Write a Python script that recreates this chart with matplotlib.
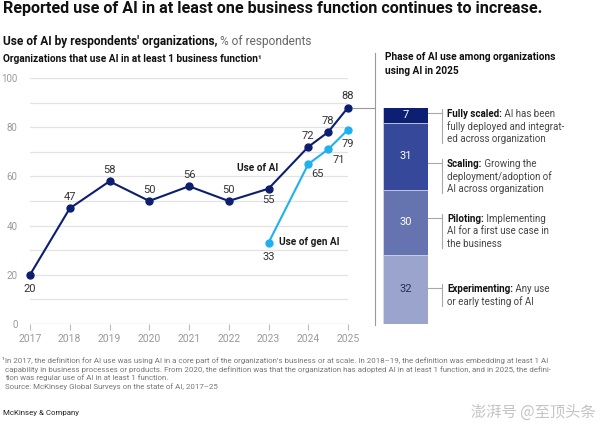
import matplotlib
matplotlib.use("Agg")
import matplotlib.pyplot as plt
from matplotlib.lines import Line2D

# ---- data ----
ai_years = [2017, 2018, 2019, 2020, 2021, 2022, 2023, 2024, 2024.5, 2025]
ai_use = [20, 47, 58, 50, 56, 50, 55, 72, 78, 88]
genai_years = [2023, 2024, 2024.5, 2025]
genai_use = [33, 65, 71, 79]
year_ticks = [2017, 2018, 2019, 2020, 2021, 2022, 2023, 2024, 2025]
y_ticks = [0, 20, 40, 60, 80, 100]

# phase shares, bottom to top of the stacked bar
phase_names = ["Experimenting:", "Piloting:", "Scaling:", "Fully scaled:"]
phase_share = [32, 30, 31, 7]
phase_desc = [
    [" Any use", "or early testing of AI"],
    [" Implementing", "AI for a first use case in", "the business"],
    [" Growing the", "deployment/adoption of", "AI across organization"],
    [" AI has been", "fully deployed and integrat-", "ed across organization"],
]

TITLE = "Reported use of AI in at least one business function continues to increase."
SUB_BOLD = "Use of AI by respondents' organizations,"
SUB_REST = " % of respondents"
LEFT_HEAD = "Organizations that use AI in at least 1 business function\u00b9"
RIGHT_HEAD = "Phase of AI use among organizations\nusing AI in 2025"
FOOTNOTE = [
    "\u00b9In 2017, the definition for AI use was using AI in a core part of the organization\u2019s business or at scale. In 2018\u201319, the definition was embedding at least 1 AI",
    "capability in business processes or products. From 2020, the definition was that the organization has adopted AI in at least 1 function, and in 2025, the defini-",
    "tion was regular use of AI in at least 1 function.",
    "Source: McKinsey Global Surveys on the state of AI, 2017\u201325",
]

# ---- style ----
NAVY = "#0b1f6e"
SKY = "#1fb0f2"
BAR_COLS = ["#9ba4cd", "#6573b0", "#35489a", "#0c1f72"]
BAR_TXT = ["#2a2f55", "white", "white", "white"]
GRID = "#e3e3e3"
TICK_GREY = "#9a9a9a"
TXT = "#333333"

W, H = 600, 430
plt.rcParams['font.family'] = ["Roboto", "DejaVu Sans"]

fig = plt.figure(figsize=(W / 100, H / 100), dpi=100)
renderer = fig.canvas.get_renderer()


def frac(x0, y0, x1, y1):
    # pixel box (top-left origin) -> figure fraction rect
    return [x0 / W, 1 - y1 / H, (x1 - x0) / W, (y1 - y0) / H]


# ---- line chart ----
ax = fig.add_axes(frac(30, 78, 348, 324))
ax.set_xlim(2017, 2025)
ax.set_ylim(0, 100)
for v in range(10, 101, 10):
    ax.axhline(v, color=GRID, lw=0.9, zorder=0)
ax.axhline(0, color="#bdbdbd", lw=0.9, zorder=0)
for s in ax.spines.values():
    s.set_visible(False)
ax.set_xticks(year_ticks)
ax.set_yticks(y_ticks)
ax.tick_params(axis="x", length=4, width=0.8, color="#bdbdbd", labelcolor=TICK_GREY,
               labelsize=7.5, pad=3)
ax.tick_params(axis="y", length=0, labelcolor=TICK_GREY, labelsize=7, pad=9)

ax.plot(ai_years, ai_use, "o-", color=NAVY, lw=1.5, ms=5, clip_on=False, zorder=3)
ax.plot(genai_years, genai_use, "o-", color=SKY, lw=1.5, ms=5, clip_on=False, zorder=3)

ai_off = [(0, -10), (0, 8), (0, 8), (0, 8), (0, 8), (0, 8), (0, -8), (0, 8), (0, 8), (0, 8)]
for x, y, off in zip(ai_years, ai_use, ai_off):
    ax.annotate(str(y), (x, y), xytext=off, textcoords="offset points",
                ha="center", va="center", fontsize=8, color=TXT)
gen_off = [(0, -10), (7, -7), (8, -8), (0, -10)]
for x, y, off in zip(genai_years, genai_use, gen_off):
    ax.annotate(str(y), (x, y), xytext=off, textcoords="offset points",
                ha="center", va="center", fontsize=8, color=TXT)

ax.text(2023.24, 63.4, "Use of AI", ha="right", va="center", fontsize=7.2,
        fontweight="bold", color="#1a1a1a")
ax.text(2023.27, 33.3, "Use of gen AI", ha="left", va="center", fontsize=7.2,
        fontweight="bold", color="#1a1a1a")

# ---- stacked bar ----
bx = fig.add_axes(frac(383, 107.5, 428, 324))
bx.set_xlim(-0.5, 0.5)
bx.set_ylim(0, 100)
bx.axis("off")
bottom = 0
for share, col, tc in zip(phase_share, BAR_COLS, BAR_TXT):
    bx.bar(0, share, width=1, bottom=bottom, color=col, edgecolor="#d8dcec", lw=0.5)
    bx.text(0, bottom + share / 2, str(share), ha="center", va="center",
            fontsize=8, color=tc)
    bottom += share

# ---- overlay for text and rules, in pixels ----
ov = fig.add_axes([0, 0, 1, 1], zorder=-1)
ov.set_xlim(0, W)
ov.set_ylim(H, 0)
ov.axis("off")
ov.patch.set_alpha(0)


def two_part(x, y, bold, rest, size, cb, cr, va="center"):
    t = ov.text(x, y, bold, fontsize=size, fontweight="bold", color=cb, va=va)
    w = t.get_window_extent(renderer).width
    ov.text(x + w, y, rest, fontsize=size, color=cr, va=va)


ov.text(3, 9, TITLE, fontsize=11.6, fontweight="bold", color="#111111", va="center")
two_part(3, 41, SUB_BOLD, SUB_REST, 8.6, "#111111", "#666666")
ov.text(3, 59, LEFT_HEAD, fontsize=7.3, fontweight="bold", color="#111111", va="center")
ov.text(385, 52, RIGHT_HEAD, fontsize=7.3, fontweight="bold", color="#111111",
        va="top", linespacing=1.45)

# separator and connector
ov.add_line(Line2D([375, 375], [53, 325], color="#9a9a9a", lw=0.8))
ov.add_line(Line2D([353, 375], [107.5, 107.5], color="#9a9a9a", lw=0.8))

# phase labels with brackets, listed bottom to top like the data
label_y = [288, 218, 163, 113]
step = 12.5
for name, desc, y0 in zip(phase_names, phase_desc, label_y):
    n = len(desc)
    ov.add_line(Line2D([428, 442], [y0, y0], color="#a8a8a8", lw=0.8))
    ov.add_line(Line2D([442, 442], [y0 - 4, y0 + (n - 1) * step + 5], color="#a8a8a8", lw=0.8))
    two_part(447, y0, name, desc[0], 7, "#111111", "#444444", va="center_baseline")
    for i, line in enumerate(desc[1:], start=1):
        ov.text(447, y0 + i * step, line, fontsize=7, color="#444444", va="center_baseline")

# footnote
for i, line in enumerate(FOOTNOTE):
    ov.text(2 if i == 0 else 5, 360 + i * 8.7, line, fontsize=5.7, color="#777777",
            va="center_baseline")
ov.text(3, 413, "McKinsey & Company", fontsize=5.7, color="#222222", va="center")
ov.text(596, 412, "\u6f8e\u6e43\u53f7 @\u81f3\u9876\u5934\u6761", fontsize=11,
        color="#c4c4c4", ha="right", va="center",
        family=["Noto Sans CJK SC", "DejaVu Sans"])

fig.savefig("out.png", dpi=100)
